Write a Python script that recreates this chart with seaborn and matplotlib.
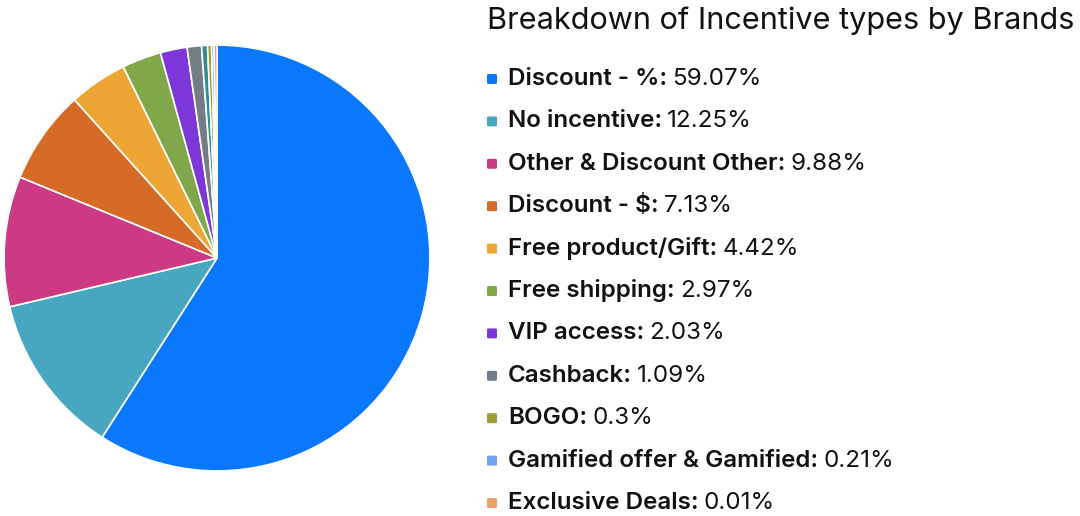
import matplotlib
matplotlib.use("Agg")
import matplotlib.pyplot as plt
from matplotlib.patches import FancyBboxPatch
import seaborn as sns

# data (legend order = slice order, clockwise from 12 o'clock)
labels = ["Discount - %", "No incentive", "Other & Discount Other", "Discount - $",
          "Free product/Gift", "Free shipping", "VIP access", "Cashback", "BOGO",
          "Gamified offer & Gamified", "Exclusive Deals"]
values = [59.07, 12.25, 9.88, 7.13, 4.42, 2.97, 2.03, 1.09, 0.3, 0.21, 0.01]
value_text = ["59.07%", "12.25%", "9.88%", "7.13%", "4.42%", "2.97%", "2.03%",
              "1.09%", "0.3%", "0.21%", "0.01%"]
colors = ["#0a77ff", "#47a7c0", "#cb3a83", "#d66b27", "#eda535", "#80a84a",
          "#7d37d9", "#747c85", "#9c9c34", "#6fa3ee", "#eba06a"]

# slivers visible in the pie but not in the legend
unlisted_values = [0.45, 0.19]
unlisted_colors = ["#2e8f8f", "#e0553a"]

sns.set_theme(style="white")
plt.rcParams['font.family'] = ['Inter', 'DejaVu Sans']

fig = plt.figure(figsize=(10.8, 5.16), dpi=100)

# pie
pie_vals = values[:8] + [unlisted_values[0]] + values[8:] + [unlisted_values[1]]
pie_cols = colors[:8] + [unlisted_colors[0]] + colors[8:] + [unlisted_colors[1]]
ax = fig.add_axes([3 / 1080, 44 / 516, 428 / 1080, 428 / 516])
ax.pie(pie_vals, colors=pie_cols, startangle=90, counterclock=False,
       wedgeprops=dict(edgecolor="white", linewidth=1.2))
ax.set_xlim(-1.005, 1.005)
ax.set_ylim(-1.005, 1.005)
ax.set_aspect("equal")
ax.axis("off")

# title
fig.text(487 / 1080, 1 - 21 / 516, "Breakdown of Incentive types by Brands",
         fontsize=22.1, color="#111111", va="center", ha="left")

# legend
renderer = fig.canvas.get_renderer()
y0, dy = 79, 42.4
for i, (lab, val, col) in enumerate(zip(labels, value_text, colors)):
    y = 1 - (y0 + i * dy) / 516
    box = FancyBboxPatch((487 / 1080, y - 5 / 516), 10 / 1080, 10 / 516,
                         boxstyle="round,pad=0,rounding_size=0.002",
                         transform=fig.transFigure, facecolor=col, edgecolor="none")
    fig.patches.append(box)
    t = fig.text(508 / 1080, y, lab + ":", fontsize=17.4, fontweight=600,
                 color="#111111", va="center", ha="left")
    bb = t.get_window_extent(renderer)
    fig.text((bb.x1 + 5) / 1080, y, val, fontsize=17.4, color="#111111",
             va="center", ha="left")

fig.savefig("out.png", dpi=100)
